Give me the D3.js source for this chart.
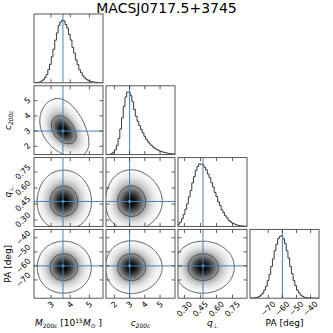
<!DOCTYPE html>
<html>
<head>
<meta charset="utf-8">
<script src="https://cdn.jsdelivr.net/npm/d3@7"></script>
<style>
  body { margin: 0; background: #fff; }
  svg { font-family: "DejaVu Sans", sans-serif; }
</style>
</head>
<body>
<div class="chart"></div>
<script>
// chart data
const title = "MACSJ0717.5+3745";
const paramNames = ["M", "c", "q", "PA"];
const ranges = [[2.11, 5.71], [1.45, 5.98], [0.24, 0.886], [-83, -34]];
const truths = [3.62, 3.0, 0.474, -60];
const tickValues = [[3, 4, 5], [2, 3, 4, 5], [0.30, 0.45, 0.60, 0.75], [-70, -60, -50, -40]];
const tickFormats = [d3.format("d"), d3.format("d"), d3.format(".2f"), (v) => d3.format("d")(v).replace("-", "\u2212")];

// histograms (40 bins over each range, relative counts)
const histM = [0.002, 0.004, 0.008, 0.014, 0.029, 0.048, 0.086, 0.131, 0.210, 0.295, 0.418, 0.536, 0.681, 0.798, 0.915, 0.972, 1.000, 0.989, 0.931, 0.874, 0.772, 0.684, 0.566, 0.475, 0.365, 0.291, 0.208, 0.160, 0.112, 0.079, 0.055, 0.038, 0.027, 0.019, 0.013, 0.009, 0.006, 0.004, 0.002, 0.001];
const histC = [0.001, 0.002, 0.006, 0.016, 0.037, 0.078, 0.147, 0.257, 0.406, 0.583, 0.765, 0.914, 0.993, 0.990, 0.936, 0.839, 0.716, 0.610, 0.530, 0.460, 0.400, 0.345, 0.290, 0.243, 0.204, 0.170, 0.143, 0.119, 0.098, 0.081, 0.067, 0.055, 0.046, 0.037, 0.030, 0.024, 0.019, 0.015, 0.012, 0.009];
const histQ = [0.035, 0.068, 0.122, 0.190, 0.276, 0.360, 0.470, 0.574, 0.696, 0.795, 0.899, 0.957, 1.000, 0.994, 0.985, 0.946, 0.905, 0.838, 0.780, 0.698, 0.630, 0.543, 0.478, 0.392, 0.334, 0.266, 0.222, 0.171, 0.137, 0.099, 0.078, 0.056, 0.043, 0.029, 0.021, 0.014, 0.010, 0.006, 0.004, 0.002];
const histPA = [0.001, 0.002, 0.004, 0.009, 0.017, 0.028, 0.052, 0.081, 0.133, 0.192, 0.285, 0.381, 0.508, 0.628, 0.760, 0.862, 0.953, 0.990, 1.000, 0.948, 0.875, 0.757, 0.641, 0.505, 0.393, 0.281, 0.201, 0.129, 0.087, 0.050, 0.031, 0.016, 0.010, 0.005, 0.003, 0.002, 0.001, 0.001, 0.000, 0.000];
const hists = [histM, histC, histQ, histPA];

// tilt of the 2D panels (row,col): c shifts by this much per unit of M
const pairShear = { "1,0": 1.0 };
// 2D smoothing in grid cells, per panel (row,col), default otherwise
const pairSmooth = { "1,0": 7 };
const smoothRadius = 9;
const contourMass = [0.393, 0.865];

const width = 333, height = 333;
const panelW = 69, panelH = 68.8;
const colLeft = [34, 106, 178, 250];
const rowTop = [14, 85.8, 157.6, 229.4];
const truthColor = "#4682b4";
const n = 64, pad = 30, N = n + 2 * pad;

const svg = d3.select(".chart").append("svg")
  .attr("width", width).attr("height", height);

svg.append("text")
  .attr("x", 166.5).attr("y", 12.8)
  .attr("text-anchor", "middle")
  .attr("font-size", 14)
  .text(title);

const defs = svg.append("defs");

//linear interpolation of a histogram at x
function histAt(h, r, x) {
  const w = (r[1] - r[0]) / h.length;
  const p = (x - r[0]) / w - 0.5;
  if (p < -0.5 || p > h.length - 0.5) return 0;
  const i0 = Math.max(0, Math.min(h.length - 1, Math.floor(p)));
  const i1 = Math.min(h.length - 1, i0 + 1);
  const f = Math.max(0, Math.min(1, p - i0));
  return h[i0] * (1 - f) + h[i1] * f;
}

function xScaleFor(j) {
  return d3.scaleLinear().domain(ranges[j]).range([colLeft[j], colLeft[j] + panelW]);
}
function yScaleFor(i) {
  return d3.scaleLinear().domain(ranges[i]).range([rowTop[i] + panelH, rowTop[i]]);
}

function drawTicks(g, x0, y0, xs, xticks, ys, yticks) {
  const len = 3.5;
  xticks.forEach((v) => {
    const x = xs(v);
    g.append("line").attr("x1", x).attr("x2", x).attr("y1", y0 + panelH).attr("y2", y0 + panelH - len);
    g.append("line").attr("x1", x).attr("x2", x).attr("y1", y0).attr("y2", y0 + len);
  });
  if (ys) {
    yticks.forEach((v) => {
      const y = ys(v);
      g.append("line").attr("x1", x0).attr("x2", x0 + len).attr("y1", y).attr("y2", y);
      g.append("line").attr("x1", x0 + panelW).attr("x2", x0 + panelW - len).attr("y1", y).attr("y2", y);
    });
  }
  g.selectAll("line").attr("stroke", "#333").attr("stroke-width", 0.8);
}

function rotatedLabel(x, y, txt, side) {
  const t = svg.append("text")
    .attr("font-size", 8)
    .attr("text-anchor", "middle")
    .attr("dominant-baseline", "central")
    .text(txt);
  const w = t.node().getComputedTextLength();
  const half = (w + 6) * 0.7071 / 2;
  const gap = 2.5;
  if (side === "bottom") t.attr("transform", `translate(${x},${y + gap + half}) rotate(-45)`);
  else t.attr("transform", `translate(${x - gap - half},${y}) rotate(-45)`);
}

for (let i = 0; i < 4; i++) {
  for (let j = 0; j <= i; j++) {
    const x0 = colLeft[j], y0 = rowTop[i];
    const xs = xScaleFor(j);
    const clipId = `clip-${i}-${j}`;
    defs.append("clipPath").attr("id", clipId)
      .append("rect").attr("x", x0).attr("y", y0).attr("width", panelW).attr("height", panelH);
    const g = svg.append("g").attr("clip-path", `url(#${clipId})`);

    if (i === j) {
      //diagonal: step histogram
      const h = hists[i];
      const ys = d3.scaleLinear().domain([0, 1.1 * d3.max(h)]).range([y0 + panelH, y0]);
      const w = (ranges[i][1] - ranges[i][0]) / h.length;
      const pts = [[ranges[i][0], 0]];
      h.forEach((v, k) => {
        pts.push([ranges[i][0] + k * w, v]);
        pts.push([ranges[i][0] + (k + 1) * w, v]);
      });
      pts.push([ranges[i][1], 0]);
      g.append("path")
        .attr("d", d3.line().x((d) => xs(d[0])).y((d) => ys(d[1]))(pts))
        .attr("fill", "none").attr("stroke", "#222").attr("stroke-width", 0.9);
      g.append("line")
        .attr("x1", xs(truths[i])).attr("x2", xs(truths[i]))
        .attr("y1", y0).attr("y2", y0 + panelH)
        .attr("stroke", truthColor).attr("stroke-width", 1);
      drawTicks(svg.append("g"), x0, y0, xs, tickValues[j], null, null);
    } else {
      //off-diagonal: smoothed density from the two marginals
      const ys = yScaleFor(i);
      const key = `${i},${j}`;
      const s = pairShear[key] || 0;
      const rx = ranges[j], ry = ranges[i];
      const dx = (rx[1] - rx[0]) / n, dy = (ry[1] - ry[0]) / n;
      const values = new Float64Array(N * N);
      for (let gy = 0; gy < N; gy++) {
        const yv = ry[1] - (gy - pad + 0.5) * dy;
        for (let gx = 0; gx < N; gx++) {
          const xv = rx[0] + (gx - pad + 0.5) * dx;
          values[gy * N + gx] = histAt(hists[j], rx, xv) * histAt(hists[i], ry, yv + s * (xv - truths[j]));
        }
      }
      d3.blur2({ data: values, width: N, height: N }, pairSmooth[key] || smoothRadius);
      const arr = Array.from(values);
      const vmax = d3.max(arr);
      const sorted = arr.slice().sort((a, b) => b - a);
      const total = d3.sum(sorted);
      const levels = contourMass.map((m) => {
        let acc = 0;
        for (const v of sorted) { acc += v; if (acc >= m * total) return v; }
        return sorted[sorted.length - 1];
      });
      const outer = d3.min(levels);

      const sx = panelW / n, sy = panelH / n;
      const path = d3.geoPath(d3.geoTransform({
        point: function (px, py) { this.stream.point(x0 + (px - pad) * sx, y0 + (py - pad) * sy); }
      }));

      g.append("rect").attr("x", x0).attr("y", y0).attr("width", panelW).attr("height", panelH).attr("fill", "#fff");

      //grey shade: black fading to transparent white, over white
      const nb = 40;
      const bandThresholds = d3.range(0, nb).map((k) => outer + (vmax - outer) * k / nb);
      const bands = d3.contours().size([N, N]).thresholds(bandThresholds)(arr);
      const step = (vmax - outer) / nb;
      g.selectAll(".band").data(bands).enter().append("path")
        .attr("d", path)
        .attr("fill", (d) => {
          const u = Math.min(1, (d.value + step / 2) / vmax);
          const c = Math.round(255 * (1 - u * u));
          return `rgb(${c},${c},${c})`;
        });

      const lines = d3.contours().size([N, N]).thresholds(levels.slice().sort((a, b) => a - b))(arr);
      g.selectAll(".level").data(lines).enter().append("path")
        .attr("d", path)
        .attr("fill", "none").attr("stroke", "#333").attr("stroke-width", 0.8);

      g.append("line")
        .attr("x1", xs(truths[j])).attr("x2", xs(truths[j]))
        .attr("y1", y0).attr("y2", y0 + panelH)
        .attr("stroke", truthColor).attr("stroke-width", 1);
      g.append("line")
        .attr("x1", x0).attr("x2", x0 + panelW)
        .attr("y1", ys(truths[i])).attr("y2", ys(truths[i]))
        .attr("stroke", truthColor).attr("stroke-width", 1);
      g.append("rect")
        .attr("x", xs(truths[j]) - 1.5).attr("y", ys(truths[i]) - 1.5)
        .attr("width", 3).attr("height", 3).attr("fill", truthColor);

      drawTicks(svg.append("g"), x0, y0, xs, tickValues[j], ys, tickValues[i]);

      if (j === 0) {
        tickValues[i].forEach((v) => rotatedLabel(x0, ys(v), tickFormats[i](v), "left"));
      }
    }

    //panel frame
    svg.append("rect")
      .attr("x", x0).attr("y", y0).attr("width", panelW).attr("height", panelH)
      .attr("fill", "none").attr("stroke", "#444").attr("stroke-width", 0.9);

    if (i === 3) {
      tickValues[j].forEach((v) => rotatedLabel(xs(v), y0 + panelH, tickFormats[j](v), "bottom"));
    }
  }
}

//axis titles, built from text pieces: [text, style]
const axisTitles = [
  [["M", "i"], ["200c", "sub"], [" [10", ""], ["15", "sup"], ["M", "i"], ["\u2299", "sub"], [" ]", ""]],
  [["c", "i"], ["200c", "subi"]],
  [["q", "i"], ["\u22a5", "sub"]],
  [["PA [deg]", ""]]
];

function titleText(sel, pieces) {
  pieces.forEach(([txt, style]) => {
    const t = sel.append("tspan").text(txt);
    if (style === "i") t.attr("font-style", "italic");
    if (style === "sub" || style === "subi") {
      t.attr("font-size", 6).attr("baseline-shift", "-25%");
      if (style === "subi") t.attr("font-style", "italic");
    }
    if (style === "sup") t.attr("font-size", 6).attr("baseline-shift", "55%");
  });
}

for (let j = 0; j < 4; j++) {
  const t = svg.append("text")
    .attr("x", colLeft[j] + panelW / 2).attr("y", 326)
    .attr("text-anchor", "middle").attr("font-size", 9);
  titleText(t, axisTitles[j]);
}
for (let i = 1; i < 4; i++) {
  const cy = rowTop[i] + panelH / 2;
  const t = svg.append("text")
    .attr("transform", `translate(11,${cy}) rotate(-90)`)
    .attr("text-anchor", "middle").attr("font-size", 9);
  titleText(t, axisTitles[i]);
}
</script>
</body>
</html>
